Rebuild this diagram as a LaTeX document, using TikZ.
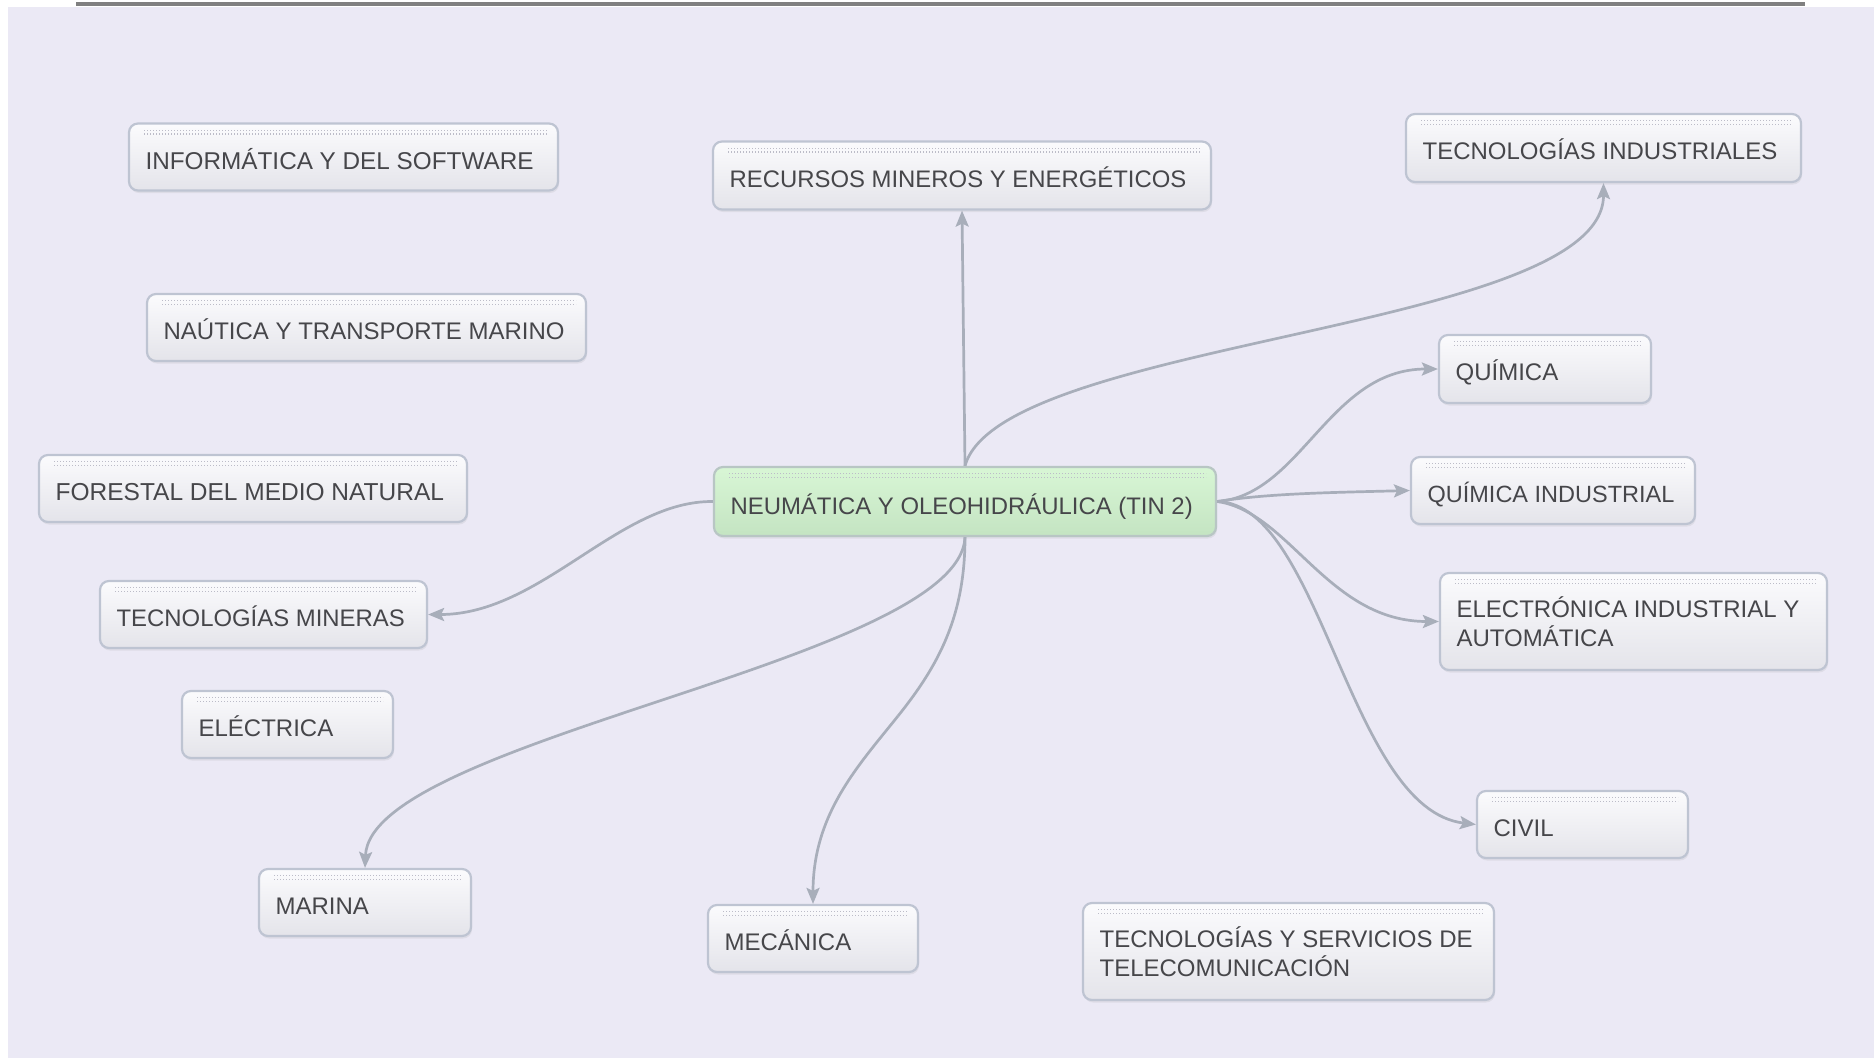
\documentclass[tikz,border=0pt]{standalone}
\usepackage{fontspec}
\setmainfont{Liberation Sans}
\usetikzlibrary{arrows.meta,shadows}
\definecolor{bgc}{RGB}{235,233,245}
\definecolor{bord}{RGB}{190,196,210}
\definecolor{boxtop}{RGB}{251,251,253}
\definecolor{boxbot}{RGB}{228,228,234}
\definecolor{centop}{RGB}{216,246,213}
\definecolor{cenbot}{RGB}{196,228,194}
\definecolor{cenbord}{RGB}{184,198,196}
\definecolor{edgec}{RGB}{168,174,186}
\definecolor{dotc}{RGB}{188,188,200}
\definecolor{txtc}{RGB}{70,70,74}
\definecolor{barc}{RGB}{128,128,128}
\tikzset{
  bx/.style={draw=bord, line width=2.2pt, rounded corners=9pt, top color=boxtop, bottom color=boxbot,
    minimum height=67pt, inner sep=0pt,
    drop shadow={opacity=0.12, shadow xshift=1pt, shadow yshift=-2.5pt},
    path picture={
      \draw[dotc, line width=1.1pt, dash pattern=on 1.1pt off 1.9pt]
        ([xshift=15pt,yshift=-6.7pt]path picture bounding box.north west) -- ([xshift=-10pt,yshift=-6.7pt]path picture bounding box.north east);
      \draw[dotc, line width=1.1pt, dash pattern=on 1.1pt off 1.9pt]
        ([xshift=15pt,yshift=-10.5pt]path picture bounding box.north west) -- ([xshift=-10pt,yshift=-10.5pt]path picture bounding box.north east);
    }},
  txt/.style={anchor=base west, inner sep=0pt, text=txtc, font=\fontsize{24}{28}\selectfont},
  fs/.style={font=\fontsize{#1}{28}\selectfont},
  con/.style={draw=edgec, line width=2.7pt, -{Stealth[length=16pt,width=13pt,inset=3pt]}},
  plain/.style={draw=edgec, line width=2.7pt},
}
\begin{document}
\begin{tikzpicture}[x=1pt,y=-1pt]
\useasboundingbox (0,0) rectangle (1874,1058);
\fill[white] (0,0) rectangle (1874,1058);
\fill[bgc] (8,7) rectangle (1874,1058);
\fill[barc] (76,1.5) rectangle (1805,6);

% boxes
\node[bx, minimum width=429pt] (inf) at (343.5,157) {};
\node[txt, fs=24.3] (infT) at ([xshift=17.5pt,yshift=-47pt]inf.north west) {INFORMÁTICA Y DEL SOFTWARE};

\node[bx, minimum width=498pt, minimum height=68pt] (rec) at (962,175.5) {};
\node[txt, fs=23.9] (recT) at ([xshift=17.5pt,yshift=-47pt]rec.north west) {RECURSOS MINEROS Y ENERGÉTICOS};

\node[bx, minimum width=395pt, minimum height=68pt] (ti) at (1603.5,148) {};
\node[txt] (tiT) at ([xshift=17.5pt,yshift=-47pt]ti.north west) {TECNOLOGÍAS INDUSTRIALES};

\node[bx, minimum width=439pt] (nau) at (366.5,327.5) {};
\node[txt] (nauT) at ([xshift=17.5pt,yshift=-47pt]nau.north west) {NAÚTICA Y TRANSPORTE MARINO};

\node[bx, minimum width=212pt, minimum height=68pt] (qui) at (1545,369) {};
\node[txt] (quiT) at ([xshift=17.5pt,yshift=-47pt]qui.north west) {QUÍMICA};

\node[bx, minimum width=428pt] (for) at (253,488.5) {};
\node[txt, fs=24.5] (forT) at ([xshift=17.5pt,yshift=-47pt]for.north west) {FORESTAL DEL MEDIO NATURAL};

\node[bx, draw=cenbord, top color=centop, bottom color=cenbot, minimum width=502pt, minimum height=69pt] (cen) at (965,501.5) {};
\node[txt, fs=23.9] (cenT) at ([xshift=17.5pt,yshift=-49pt]cen.north west) {NEUMÁTICA Y OLEOHIDRÁULICA (TIN 2)};

\node[bx, minimum width=284pt] (qi) at (1553,490.5) {};
\node[txt, fs=23.5] (qiT) at ([xshift=17.5pt,yshift=-47pt]qi.north west) {QUÍMICA INDUSTRIAL};

\node[bx, minimum width=327pt] (min) at (263.5,614.5) {};
\node[txt, fs=23.9] (minT) at ([xshift=17.5pt,yshift=-47pt]min.north west) {TECNOLOGÍAS MINERAS};

\node[bx, minimum width=387pt, minimum height=97pt] (el) at (1633.5,621.5) {};
\node[txt] (elT1) at ([xshift=17.5pt,yshift=-46pt]el.north west) {ELECTRÓNICA INDUSTRIAL Y};
\node[txt] (elT2) at ([xshift=17.5pt,yshift=-75pt]el.north west) {AUTOMÁTICA};

\node[bx, minimum width=211pt] (ele) at (287.5,724.5) {};
\node[txt] (eleT) at ([xshift=17.5pt,yshift=-47pt]ele.north west) {ELÉCTRICA};

\node[bx, minimum width=211pt] (civ) at (1582.5,824.5) {};
\node[txt] (civT) at ([xshift=17.5pt,yshift=-47pt]civ.north west) {CIVIL};

\node[bx, minimum width=212pt] (mar) at (365,902.5) {};
\node[txt] (marT) at ([xshift=17.5pt,yshift=-47pt]mar.north west) {MARINA};

\node[bx, minimum width=210pt] (mec) at (813,938.5) {};
\node[txt] (mecT) at ([xshift=17.5pt,yshift=-47pt]mec.north west) {MECÁNICA};

\node[bx, minimum width=411pt, minimum height=97pt] (tel) at (1288.5,951.5) {};
\node[txt] (telT1) at ([xshift=17.5pt,yshift=-46pt]tel.north west) {TECNOLOGÍAS Y SERVICIOS DE};
\node[txt] (telT2) at ([xshift=17.5pt,yshift=-75pt]tel.north west) {TELECOMUNICACIÓN};

% connectors
\coordinate (mecmid) at (898,716);
\draw[con] (cen.north) -- (rec.south);
\draw[con] (cen.north) .. controls +(35,-127) and +(0,148) .. (ti.south);
\draw[con] (cen.east) .. controls +(84,-6) and +(-109,0) .. (qui.west);
\draw[con] (cen.east) .. controls +(50,-8) and +(-80,2) .. (qi.west);
\draw[con] (cen.east) .. controls +(72,10) and +(-111,0) .. (el.west);
\draw[con] (cen.east) .. controls +(104,2) and +(-127,-15) .. (civ.west);
\draw[con] (cen.west) .. controls +(-94,-1) and +(113,0) .. (min.east);
\draw[con] (cen.south) .. controls +(-5,124) and +(5,-129) .. (mar.north);
\draw[plain] (cen.south) .. controls +(0,80) and +(40,-50) .. (mecmid);
\draw[con] (mecmid) .. controls +(-40,50) and +(0,-90) .. (mec.north);
\end{tikzpicture}
\end{document}
